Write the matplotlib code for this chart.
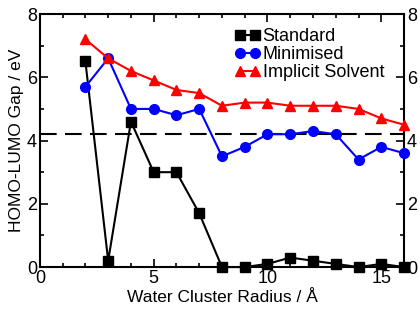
import matplotlib
matplotlib.use("Agg")
import matplotlib.pyplot as plt
from matplotlib.ticker import MultipleLocator

plt.rcParams['font.family'] = ['Liberation Sans', 'DejaVu Sans']

radius = [2, 3, 4, 5, 6, 7, 8, 9, 10, 11, 12, 13, 14, 15, 16]
standard = [6.5, 0.2, 4.6, 3.0, 3.0, 1.7, 0.0, 0.0, 0.1, 0.3, 0.2, 0.1, 0.0, 0.1, 0.0]
minimised = [5.7, 6.6, 5.0, 5.0, 4.8, 5.0, 3.5, 3.8, 4.2, 4.2, 4.3, 4.2, 3.4, 3.8, 3.6]
implicit = [7.2, 6.6, 6.2, 5.9, 5.6, 5.5, 5.1, 5.2, 5.2, 5.1, 5.1, 5.1, 5.0, 4.7, 4.5]
reference_gap = 4.2

fig = plt.figure(figsize=(4.2, 3.12), dpi=100)
ax = fig.add_axes([0.095, 0.144, 0.867, 0.811])

ax.plot(radius, standard, '-s', color='black', lw=1.5, ms=6.5, label='Standard', clip_on=False, zorder=3)
ax.plot(radius, minimised, '-o', color='blue', lw=1.5, ms=7, label='Minimised', clip_on=False, zorder=3)
ax.plot(radius, implicit, '-^', color='red', lw=1.5, ms=7.5, label='Implicit Solvent', clip_on=False, zorder=3)
ax.axhline(reference_gap, color='black', lw=1.5, dashes=(8, 4))

ax.set_xlim(0, 16)
ax.set_ylim(0, 8)
ax.xaxis.set_major_locator(MultipleLocator(5))
ax.xaxis.set_minor_locator(MultipleLocator(1))
ax.yaxis.set_major_locator(MultipleLocator(2))
ax.yaxis.set_minor_locator(MultipleLocator(1))
ax.tick_params(which='both', direction='in', top=True, right=True, labelright=True, width=1.2)
ax.tick_params(which='major', length=6, labelsize=13, pad=2)
ax.tick_params(which='minor', length=3)
for s in ax.spines.values():
    s.set_linewidth(1.5)

ax.set_xlabel('Water Cluster Radius / Å', fontsize=12.5, labelpad=2)
ax.set_ylabel('HOMO-LUMO Gap / eV', fontsize=12.5, labelpad=2)

ax.legend(loc='upper right', bbox_to_anchor=(0.985, 1.0), frameon=False, fontsize=13,
          numpoints=2, handlelength=1.4, handletextpad=0.15, labelspacing=0.05, borderpad=0.3)

fig.savefig('out.png', dpi=100)
